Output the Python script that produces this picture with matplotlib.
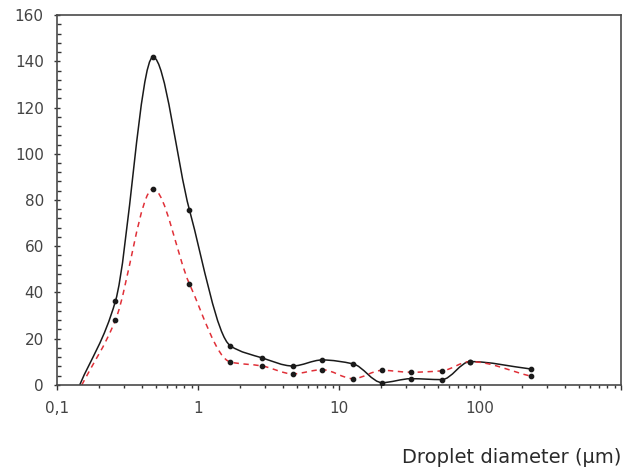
import numpy as np
import matplotlib.pyplot as plt
from matplotlib.path import Path
from matplotlib.patches import PathPatch
from matplotlib.ticker import FixedLocator, FixedFormatter, LogLocator, NullFormatter, MultipleLocator

# Data
diameter = [0.26, 0.48, 0.87, 1.7, 2.85, 4.7, 7.6, 12.6, 20.2, 32.4, 53.7, 85, 229]
count_black = [36.3, 141.8, 75.7, 16.9, 11.7, 8.2, 10.8, 9.1, 1.0, 2.7, 2.3, 10.1, 6.9]
count_red = [28.1, 84.8, 43.7, 9.9, 8.2, 4.8, 6.6, 2.7, 6.3, 5.5, 6.1, 10.1, 3.8]
start_black = 0.145   # curve starts at zero here
start_red = 0.15

xtick_vals = [0.1, 1, 10, 100, 1000]
xtick_labels = ["0,1", "1", "10", "100", ""]


def smooth_path(xs, ys):
    # monotone cubic (Fritsch-Butland) through the points, built in log-x space
    lx = np.log10(np.asarray(xs, dtype=float))
    y = np.asarray(ys, dtype=float)
    h = np.diff(lx)
    d = np.diff(y) / h
    m = np.zeros_like(y)
    m[0], m[-1] = d[0], d[-1]
    for i in range(1, len(y) - 1):
        if d[i - 1] * d[i] > 0:
            w1 = 2 * h[i] + h[i - 1]
            w2 = h[i] + 2 * h[i - 1]
            m[i] = (w1 + w2) / (w1 / d[i - 1] + w2 / d[i])
    verts = [(lx[0], y[0])]
    codes = [Path.MOVETO]
    for i in range(len(h)):
        verts += [(lx[i] + h[i] / 3, y[i] + m[i] * h[i] / 3),
                  (lx[i + 1] - h[i] / 3, y[i + 1] - m[i + 1] * h[i] / 3),
                  (lx[i + 1], y[i + 1])]
        codes += [Path.CURVE4] * 3
    verts = np.array(verts)
    verts[:, 0] = 10 ** verts[:, 0]
    return Path(verts, codes)


plt.rcParams["font.family"] = "DejaVu Sans"

fig = plt.figure(figsize=(6.33, 4.70), dpi=100)
ax = fig.add_axes([0.090, 0.181, 0.891, 0.787])
ax.set_xscale("log")

# smooth curves
black_path = smooth_path([start_black] + diameter, [0] + count_black)
red_path = smooth_path([start_red] + diameter, [0] + count_red)
ax.add_patch(PathPatch(black_path, fill=False, edgecolor="#1a1a1a", lw=1.1))
ax.add_patch(PathPatch(red_path, fill=False, edgecolor="#e03038", lw=1.1,
                       linestyle=(0, (3.5, 3))))

# data points
ax.plot(diameter, count_black, "o", ms=3.1, color="#1a1a1a", zorder=5)
ax.plot(diameter, count_red, "o", ms=3.1, color="#1a1a1a", zorder=5)

ax.set_xlim(0.1, 1000)
ax.set_ylim(0, 160)

# ticks
ax.xaxis.set_major_locator(FixedLocator(xtick_vals))
ax.xaxis.set_major_formatter(FixedFormatter(xtick_labels))
ax.xaxis.set_minor_locator(LogLocator(base=10, subs=np.arange(2, 10)))
ax.xaxis.set_minor_formatter(NullFormatter())
ax.yaxis.set_major_locator(MultipleLocator(20))
ax.yaxis.set_minor_locator(MultipleLocator(4))

ax.tick_params(axis="x", which="major", direction="out", length=3.8, width=1.0,
               color="#333333", pad=8, labelsize=11, labelcolor="#444444")
ax.tick_params(axis="x", which="minor", direction="out", length=2.4, width=1.0,
               color="#333333")
ax.tick_params(axis="y", which="major", direction="inout", length=5, width=1.0,
               color="#333333", pad=7, labelsize=11, labelcolor="#444444")
ax.tick_params(axis="y", which="minor", direction="in", length=3, width=1.0,
               color="#333333")

for s in ax.spines.values():
    s.set_color("#4a4a4a")
    s.set_linewidth(1.2)

ax.set_xlabel("Droplet diameter (µm)", loc="right", fontsize=14,
              color="#2a2a2a", labelpad=23)

fig.savefig("out.png", dpi=100)
